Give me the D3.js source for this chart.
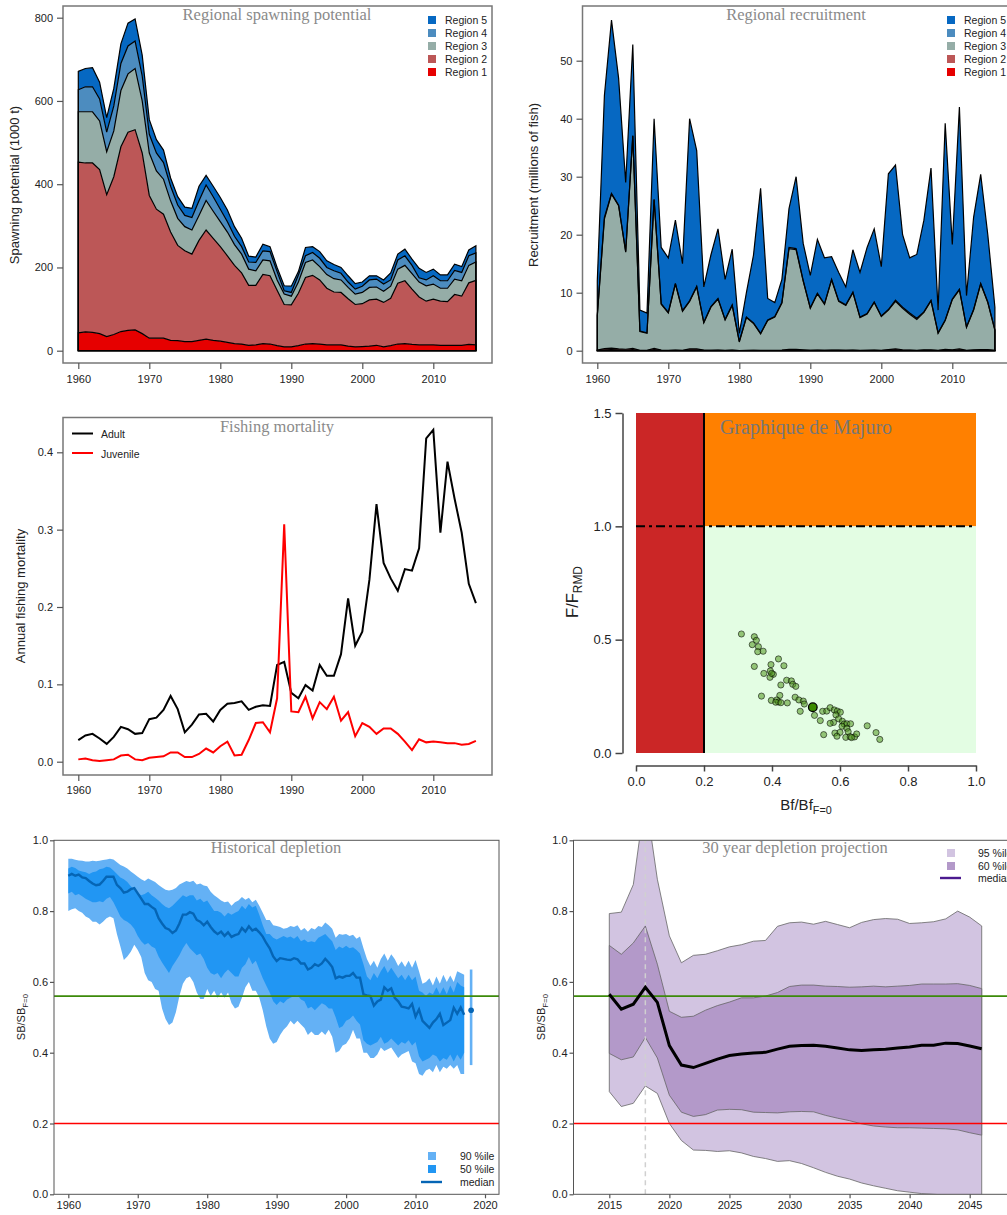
<!DOCTYPE html>
<html>

<head>
    <meta http-equiv="content-type" content="text/html; charset=utf-8">
    <title>Stock assessment summary</title>
    <script src="https://cdn.jsdelivr.net/npm/d3@7"></script>
    <style>
        body { margin: 0; background: white; }
        svg { display: block; font-family: "Liberation Sans", Arial, sans-serif; }
        .title { font-family: "Liberation Serif", serif; fill: #8a8a8a; text-anchor: middle; }
    </style>
</head>

<body>
    <svg width="1007" height="1215" id="mainsvg"></svg>
    <script>
        // ---- data ----
        const years = d3.range(1960, 2017);
        const regionNames = ['Region 5', 'Region 4', 'Region 3', 'Region 2', 'Region 1'];
        const regionColors = ['#0668C2', '#4C8CBF', '#95ADA7', '#BC5757', '#E60000'];

        // spawning potential, cumulative top of each region
        const spawnTop1 = [43,45,44,41,34,39,46,49,50,41, 30,30,30,25,24,22,22,25,28,25, 23,20,17,16,13,14,17,16,12,9, 9,12,16,17,16,14,14,14,11,9, 10,11,13,9,12,16,17,15,14,14, 14,13,13,13,13,15,14];
        const spawnTop2 = [453,451,451,435,375,418,490,525,531,475, 373,340,328,285,253,240,232,265,290,270, 250,228,205,187,157,157,183,180,145,111, 110,138,176,181,170,150,141,140,125,111, 113,122,124,116,126,162,168,148,129,119, 124,119,118,135,131,163,169];
        const spawnTop3 = [574,574,574,552,478,528,625,665,678,600, 475,432,412,360,318,298,290,325,361,335, 310,285,255,232,196,192,218,216,170,136, 131,165,212,218,202,183,173,170,152,136, 140,152,153,143,155,196,205,185,165,156, 160,150,150,172,168,205,213];
        const spawnTop4 = [627,634,634,605,525,588,690,732,744,660, 520,475,452,395,350,325,320,360,398,370, 340,310,275,250,213,212,240,238,190,144, 140,182,228,236,222,200,192,186,165,148, 155,170,172,160,170,218,228,205,175,170, 180,168,168,193,188,228,235];
        const spawnTop5 = [671,678,680,645,560,630,737,787,797,710, 555,507,482,415,370,345,342,395,421,395, 368,338,298,270,227,225,256,250,200,156, 155,190,248,250,238,216,207,200,180,161, 165,180,180,170,187,232,244,220,198,188, 196,182,182,208,202,242,252];

        // recruitment, cumulative top of each region
        const recTop1 = [.05,.15,.2,.15,.12,.2,.03,.03,.2,.05, .03,.05,.03,.15,.15,.05,.04,.05,.03,.05, .01,.03,.04,.03,.03,.03,.05,.1,.1,.07, .04,.05,.04,.06,.05,.04,.06,.03,.04,.05, .03,.1,.15,.08,.05,.03,.07,.08,.03,.12, .08,.15,.03,.07,.1,.1,.03];
        const recTop2 = [.1,.35,.45,.3,.25,.4,.06,.05,.4,.1, .06,.1,.06,.3,.3,.1,.08,.1,.06,.1, .02,.06,.08,.06,.06,.06,.1,.22,.22,.14, .08,.1,.08,.12,.1,.08,.12,.06,.08,.1, .06,.2,.3,.16,.1,.06,.14,.16,.06,.25, .16,.3,.06,.14,.2,.2,.06];
        const recTop3 = [6,22.7,27,25,17,37,3.3,3,26,8, 6.5,11.5,6.8,8.5,11,4.8,7.5,8.9,5.3,7.8, 1.5,5.7,4.7,2.9,5.2,5.8,8.2,17.6,17.4,12, 7.3,9.8,8,12.2,8.5,7.8,10,5.7,6.3,8.3, 5.9,7,8.5,7.3,6.3,5.4,6.6,8.6,3,5.2, 8.8,10.5,4,7,11.5,8.3,3.5];
        const recTop4 = [6.1,23,27.1,25.1,17.1,37.1,3.4,3.1,26.1,8.1, 6.6,11.6,6.9,8.6,11.1,4.9,7.6,9,5.4,7.9, 1.6,5.8,4.8,3,5.3,5.9,8.3,17.8,17.6,12.1, 7.4,9.9,8.1,12.3,8.6,7.9,10.1,5.8,6.4,8.4, 6,7.1,8.7,7.5,6.5,5.6,6.7,8.7,3.1,5.3, 8.9,10.6,4.1,7.1,11.6,8.4,3.6];
        const recTop5 = [12,44,57,47,29,52.8,7,6.5,40,17.8, 16,22.5,15,40,34.5,11,16.5,21,12.3,17.5, 3,10,16.5,28,9,8.3,12.3,24.5,30,18.5, 13,19.2,16,16.2,13.5,11,17.4,13.5,17.8,21, 14.5,30.5,32,20,16,16.6,22.5,31.5,7,39.2, 18.3,42,9.5,23,30.4,20,7.5];

        // fishing mortality
        const fAdult = [.028,.034,.036,.03,.023,.032,.045,.042,.036,.037, .055,.057,.067,.085,.068,.038,.048,.061,.062,.052, .067,.075,.076,.078,.067,.071,.073,.072,.125,.129, .089,.082,.099,.092,.125,.111,.111,.139,.211,.15, .168,.235,.333,.257,.237,.221,.249,.247,.276,.418, .429,.296,.388,.34,.296,.23,.205];
        const fJuvenile = [.003,.004,.002,.001,.002,.003,.008,.009,.003,.002, .005,.006,.007,.012,.012,.006,.006,.01,.017,.012, .02,.026,.008,.009,.028,.05,.051,.038,.082,.307, .065,.064,.084,.056,.077,.068,.084,.053,.064,.033, .05,.045,.036,.043,.043,.036,.026,.015,.029,.025, .026,.025,.024,.024,.022,.023,.027];

        // Majuro plot
        const majuroBf = [.31,.348,.354,.342,.36,.358,.374,.419,.348,.397,.435,.395,.376,.404,.394,.399,.426,.443,.457,.461,.47,.369,.423,.398,.414,.419,.411,.426,.445,.468,.479,.492,.495,.483,.525,.549,.542,.552,.561,.571,.583,.592,.601,.588,.596,.607,.581,.571,.612,.62,.631,.606,.62,.68,.706,.717,.585,.6,.591,.624,.617,.63,.643,.649,.634];
        const majuroF = [.525,.513,.497,.478,.469,.447,.449,.415,.382,.39,.385,.362,.351,.347,.334,.351,.3,.321,.318,.303,.294,.251,.254,.232,.234,.225,.224,.222,.221,.246,.234,.229,.216,.184,.166,.184,.143,.081,.185,.2,.19,.185,.18,.168,.151,.14,.135,.131,.128,.129,.129,.118,.109,.12,.09,.06,.088,.091,.074,.094,.069,.072,.071,.084,.068];
        const majuroLatest = [.52, .202];
        const majuroBfTicks = [0, .2, .4, .6, .8, 1];
        const majuroFTicks = [0, .5, 1, 1.5];

        // historical depletion, two readings per year from 1960 to 2017
        const histTimes = d3.range(0, 115).map(i => 1960 + i / 2);
        const histMedian = [.9,.905,.9,.903,.895,.893,.885,.878,.873,.875,.885,.897,.897,.897,.874,.865,.852,.855,.862,.865,.85,.835,.82,.82,.812,.805,.78,.765,.752,.748,.738,.745,.765,.79,.79,.797,.793,.775,.77,.76,.77,.755,.743,.735,.742,.73,.74,.727,.732,.735,.752,.742,.757,.745,.75,.74,.728,.71,.695,.672,.659,.667,.665,.663,.662,.667,.664,.652,.652,.635,.64,.65,.645,.652,.665,.655,.642,.61,.615,.612,.617,.617,.625,.612,.612,.565,.562,.56,.533,.545,.55,.585,.575,.582,.555,.545,.53,.528,.525,.538,.502,.522,.49,.48,.47,.485,.495,.51,.478,.485,.492,.527,.51,.528,.507];
        const histUp90 = [.948,.948,.945,.943,.942,.94,.94,.942,.941,.942,.944,.946,.948,.946,.938,.93,.926,.92,.912,.905,.897,.89,.885,.892,.887,.882,.874,.867,.86,.858,.86,.865,.875,.88,.885,.882,.886,.875,.878,.872,.87,.855,.845,.838,.83,.825,.827,.815,.825,.83,.84,.832,.838,.825,.832,.815,.795,.775,.775,.76,.758,.755,.75,.752,.758,.755,.76,.745,.752,.742,.752,.748,.758,.755,.768,.76,.75,.725,.735,.733,.735,.73,.733,.722,.728,.695,.665,.645,.66,.64,.665,.68,.66,.678,.665,.645,.658,.642,.66,.64,.662,.63,.595,.6,.61,.59,.615,.595,.62,.6,.618,.6,.63,.625,.62];
        const histUp50 = [.92,.925,.922,.915,.912,.91,.905,.91,.912,.918,.92,.925,.923,.915,.905,.895,.89,.882,.87,.86,.852,.845,.848,.855,.845,.838,.83,.82,.812,.808,.815,.825,.835,.845,.84,.845,.845,.83,.835,.825,.83,.815,.8,.8,.795,.785,.795,.79,.795,.8,.815,.805,.82,.81,.815,.79,.76,.735,.735,.725,.72,.725,.73,.725,.728,.722,.73,.715,.72,.712,.715,.712,.725,.73,.735,.725,.715,.69,.7,.695,.702,.695,.698,.69,.68,.65,.615,.605,.625,.61,.63,.645,.625,.64,.625,.61,.62,.605,.62,.605,.615,.575,.57,.56,.57,.565,.585,.565,.585,.565,.59,.57,.6,.59,.585];
        const histLow50 = [.85,.855,.845,.848,.842,.835,.83,.825,.825,.828,.825,.835,.84,.825,.805,.785,.775,.77,.762,.75,.73,.715,.705,.71,.7,.695,.672,.655,.64,.625,.645,.66,.675,.695,.71,.695,.685,.675,.68,.665,.64,.625,.62,.625,.61,.625,.635,.625,.615,.615,.64,.65,.67,.65,.66,.635,.61,.59,.57,.545,.535,.545,.54,.55,.555,.56,.562,.55,.545,.525,.53,.52,.53,.54,.535,.525,.525,.5,.47,.475,.49,.495,.505,.49,.48,.435,.425,.42,.425,.43,.445,.425,.43,.44,.43,.42,.43,.425,.435,.42,.43,.39,.375,.38,.385,.395,.39,.375,.385,.38,.395,.375,.395,.38,.4];
        const histLow90 = [.8,.805,.808,.8,.795,.785,.78,.77,.77,.762,.77,.78,.785,.78,.735,.7,.662,.672,.685,.705,.69,.67,.625,.605,.6,.58,.575,.525,.495,.478,.485,.515,.56,.595,.61,.615,.6,.57,.552,.552,.58,.56,.575,.555,.57,.555,.57,.54,.525,.53,.555,.585,.6,.575,.575,.555,.52,.475,.44,.425,.43,.45,.465,.475,.49,.48,.49,.48,.47,.45,.46,.45,.45,.46,.45,.465,.445,.4,.405,.42,.425,.44,.465,.44,.44,.4,.4,.385,.385,.395,.415,.405,.41,.415,.4,.385,.395,.4,.405,.375,.37,.34,.335,.35,.355,.345,.365,.345,.36,.355,.365,.355,.365,.34,.34];
        const histFinal = { year: 2018, median: .52, low: .365, high: .635 };

        // 30 year projection
        const projYears = d3.range(2015, 2047);
        const projMedian = [.565,.523,.537,.585,.542,.42,.365,.358,.37,.382,.392,.396,.399,.401,.41,.418,.42,.421,.418,.413,.408,.406,.408,.41,.413,.416,.421,.421,.427,.426,.419,.411];
        const projUp95 = [.793,.797,.875,1.125,.89,.73,.654,.675,.678,.688,.699,.705,.715,.717,.757,.767,.769,.763,.771,.762,.753,.768,.776,.779,.777,.765,.767,.77,.778,.8,.783,.758];
        const projUp60 = [.703,.678,.71,.758,.65,.517,.5,.503,.52,.533,.543,.555,.555,.56,.57,.587,.591,.591,.588,.587,.585,.586,.588,.586,.588,.59,.594,.594,.594,.595,.59,.581];
        const projLow60 = [.398,.38,.388,.443,.385,.28,.232,.22,.225,.238,.24,.239,.232,.231,.23,.233,.234,.233,.223,.215,.208,.199,.193,.19,.188,.188,.187,.186,.185,.182,.174,.167];
        const projLow95 = [.29,.248,.257,.306,.285,.2,.152,.125,.124,.121,.123,.117,.107,.101,.093,.095,.087,.075,.062,.051,.043,.032,.024,.017,.01,.006,.002,0,-.002,-.004,-.006,-.008];

        const refLines = [{ v: .56, color: '#3C8A0A' }, { v: .2, color: '#FF0000' }];

        const svg = d3.select('#mainsvg');

        // ---- helpers ----
        function frame(box, stroke, sw) {
            svg.append('rect').attr('x', box.x0).attr('y', box.y0)
                .attr('width', box.x1 - box.x0).attr('height', box.y1 - box.y0)
                .attr('fill', 'none').attr('stroke', stroke).attr('stroke-width', sw);
        }

        function axes(x, y, box, xTicks, yTicks, yFormat, tick, xPad, yPad) {
            const ax = svg.append('g').attr('transform', `translate(0,${box.y1})`)
                .call(d3.axisBottom(x).tickValues(xTicks).tickFormat(d3.format('d')).tickSize(tick).tickSizeOuter(0).tickPadding(xPad));
            const ay = svg.append('g').attr('transform', `translate(${box.x0},0)`)
                .call(d3.axisLeft(y).tickValues(yTicks).tickFormat(yFormat).tickSize(tick).tickSizeOuter(0).tickPadding(yPad));
            [ax, ay].forEach(a => {
                a.select('.domain').remove();
                a.selectAll('line').attr('stroke', '#555').attr('stroke-width', 1.2);
                a.selectAll('text').attr('fill', '#222').style('font-size', '11px')
                    .style('font-family', '"Liberation Sans", Arial, sans-serif');
            });
        }

        function title(text, cx, baseline, size, color) {
            const t = svg.append('text').attr('class', 'title').attr('x', cx).attr('y', baseline)
                .style('font-size', size + 'px').text(text);
            if (color) t.style('fill', color);
        }

        function yTitle(text, cx, cy, size) {
            return svg.append('text').attr('transform', `translate(${cx},${cy}) rotate(-90)`)
                .attr('text-anchor', 'middle').attr('fill', '#222').style('font-size', size + 'px').text(text);
        }

        function subLabel(sel, main, sub, size) {
            sel.append('tspan').text(main);
            sel.append('tspan').attr('dy', size * 0.25).style('font-size', (size * 0.72) + 'px').text(sub);
        }

        function legendText(text, x, y) {
            svg.append('text').attr('x', x).attr('y', y + 4).attr('fill', '#222').style('font-size', '10.5px').text(text);
        }

        function legendSwatch(color, x, y) {
            svg.append('rect').attr('x', x - 4).attr('y', y - 4).attr('width', 8).attr('height', 8).attr('fill', color);
        }

        function legendLine(color, x0, x1, y, sw) {
            svg.append('line').attr('x1', x0).attr('x2', x1).attr('y1', y).attr('y2', y)
                .attr('stroke', color).attr('stroke-width', sw);
        }

        function stacked(x, y, tops, colors, times, lineWidth) {
            // tops run from the lowest region to the highest
            tops.forEach((top, i) => {
                const lower = i > 0 ? tops[i - 1] : times.map(() => 0);
                const area = d3.area().x((d, j) => x(times[j])).y0((d, j) => y(lower[j])).y1(d => y(d));
                svg.append('path').datum(top).attr('d', area).attr('fill', colors[i]);
            });
            tops.forEach(top => {
                const area = d3.area().x((d, j) => x(times[j])).y0(y(0)).y1(d => y(d));
                svg.append('path').datum(top).attr('d', area).attr('fill', 'none')
                    .attr('stroke', 'black').attr('stroke-width', lineWidth);
            });
        }

        function regionLegend(xSwatch, xText) {
            const rows = [20, 33, 46, 59, 72];
            regionNames.forEach((name, i) => {
                legendSwatch(regionColors[i], xSwatch, rows[i]);
                legendText(name, xText, rows[i]);
            });
        }

        const lowToHigh = regionColors.slice().reverse();
        const yearTicks = d3.range(1960, 2011, 10);

        // ---- regional spawning potential ----
        {
            const box = { x0: 63, x1: 492, y0: 6, y1: 363 };
            const x = d3.scaleLinear().domain([1960, 2010]).range([78.3, 433.3]);
            const y = d3.scaleLinear().domain([0, 800]).range([350.7, 17.7]);
            stacked(x, y, [spawnTop1, spawnTop2, spawnTop3, spawnTop4, spawnTop5], lowToHigh, years, 1.2);
            frame(box, '#777', 1.5);
            axes(x, y, box, yearTicks, d3.range(0, 801, 200), d3.format('d'), 6, 6, 4);
            title('Regional spawning potential', 277, 20, 16.5);
            yTitle('Spawning potential (1000 t)', 19, 185, 13);
            regionLegend(432, 445);
        }

        // ---- regional recruitment ----
        {
            const box = { x0: 582.5, x1: 1012, y0: 6, y1: 363 };
            const x = d3.scaleLinear().domain([1960, 2010]).range([597.3, 952.3]);
            const y = d3.scaleLinear().domain([0, 50]).range([350.7, 60.7]);
            stacked(x, y, [recTop1, recTop2, recTop3, recTop4, recTop5], lowToHigh, years, 1.2);
            frame(box, '#777', 1.5);
            axes(x, y, box, yearTicks, d3.range(0, 51, 10), d3.format('d'), 6, 6, 4);
            title('Regional recruitment', 796, 20, 16.5);
            yTitle('Recruitment (millions of fish)', 538, 185, 13);
            regionLegend(951, 964);
        }

        // ---- fishing mortality ----
        {
            const box = { x0: 63, x1: 492, y0: 417.5, y1: 775 };
            const x = d3.scaleLinear().domain([1960, 2010]).range([78.3, 433.3]);
            const y = d3.scaleLinear().domain([0, .4]).range([761.7, 452.3]);
            const line = d3.line().x((d, i) => x(years[i])).y(d => y(d));
            svg.append('path').datum(fAdult).attr('d', line).attr('fill', 'none').attr('stroke', 'black').attr('stroke-width', 2);
            svg.append('path').datum(fJuvenile).attr('d', line).attr('fill', 'none').attr('stroke', '#F00').attr('stroke-width', 2);
            frame(box, '#777', 1.5);
            axes(x, y, box, yearTicks, [0, .1, .2, .3, .4], d3.format('.1f'), 6, 5, 4);
            title('Fishing mortality', 277, 432, 16.5);
            yTitle('Annual fishing mortality', 25, 596, 13);
            legendLine('black', 72, 93, 433.5, 2);
            legendText('Adult', 101, 434);
            legendLine('#F00', 72, 93, 453, 2);
            legendText('Juvenile', 101, 453.5);
        }

        // ---- Graphique de Majuro ----
        {
            const x = d3.scaleLinear().domain([0, 1]).range([636, 976]);
            const y = d3.scaleLinear().domain([0, 1.5]).range([753, 413]);
            svg.append('rect').attr('x', x(0)).attr('y', y(1.5)).attr('width', x(.2) - x(0)).attr('height', y(0) - y(1.5)).attr('fill', '#CB2626');
            svg.append('rect').attr('x', x(.2)).attr('y', y(1.5)).attr('width', x(1) - x(.2)).attr('height', y(1) - y(1.5)).attr('fill', '#FF8000');
            svg.append('rect').attr('x', x(.2)).attr('y', y(1)).attr('width', x(1) - x(.2)).attr('height', y(0) - y(1)).attr('fill', '#E3FDE3');
            svg.append('line').attr('x1', x(.2)).attr('x2', x(.2)).attr('y1', y(1.5)).attr('y2', y(0)).attr('stroke', 'black').attr('stroke-width', 2);
            svg.append('line').attr('x1', x(0)).attr('x2', x(1)).attr('y1', y(1)).attr('y2', y(1)).attr('stroke', 'black').attr('stroke-width', 2).attr('stroke-dasharray', '9,4,3,4');
            svg.selectAll('circle.hist').data(majuroBf).enter().append('circle').attr('class', 'hist')
                .attr('cx', d => x(d)).attr('cy', (d, i) => y(majuroF[i])).attr('r', 3.1)
                .attr('fill', 'rgba(80,150,30,0.55)').attr('stroke', 'rgba(0,0,0,0.55)').attr('stroke-width', 1);
            svg.append('circle').attr('cx', x(majuroLatest[0])).attr('cy', y(majuroLatest[1])).attr('r', 4.3)
                .attr('fill', '#3C8A00').attr('stroke', 'black').attr('stroke-width', 1.3);
            const ax = svg.append('g').attr('transform', 'translate(0,765.5)')
                .call(d3.axisBottom(x).tickValues(majuroBfTicks).tickFormat(d3.format('.1f')).tickSize(6).tickSizeOuter(0).tickPadding(5));
            const ay = svg.append('g').attr('transform', 'translate(622.5,0)')
                .call(d3.axisLeft(y).tickValues(majuroFTicks).tickFormat(d3.format('.1f')).tickSize(7).tickSizeOuter(0).tickPadding(4));
            [ax, ay].forEach(a => {
                a.selectAll('.domain, line').attr('stroke', '#444').attr('stroke-width', 1.5);
                a.selectAll('text').attr('fill', '#222').style('font-size', '13px').style('font-family', '"Liberation Sans", Arial, sans-serif');
            });
            const xl = svg.append('text').attr('x', 806).attr('y', 810).attr('text-anchor', 'middle').attr('fill', '#222').style('font-size', '15px');
            subLabel(xl, 'Bf/Bf', 'F=0', 15);
            subLabel(yTitle('', 578, 592, 16.5), 'F/F', 'RMD', 16.5);
            title('Graphique de Majuro', 806, 434, 20, '#777');
        }

        // ---- historical depletion ----
        {
            const box = { x0: 54, x1: 499, y0: 840.3, y1: 1194.3 };
            const x = d3.scaleLinear().domain([1960, 2020]).range([68.3, 485]);
            const y = d3.scaleLinear().domain([0, 1]).range([1194.3, 840.3]);
            const band = (lo, hi) => d3.area().x((d, i) => x(histTimes[i])).y0((d, i) => y(lo[i])).y1(d => y(d))(hi);
            svg.append('path').attr('d', band(histLow90, histUp90)).attr('fill', '#64B1F5');
            svg.append('path').attr('d', band(histLow50, histUp50)).attr('fill', '#2196F3');
            svg.append('path').datum(histMedian).attr('fill', 'none').attr('stroke', '#0565B5').attr('stroke-width', 2.4)
                .attr('d', d3.line().x((d, i) => x(histTimes[i])).y(d => y(d)));
            svg.append('line').attr('x1', x(histFinal.year)).attr('x2', x(histFinal.year)).attr('y1', y(histFinal.low)).attr('y2', y(histFinal.high))
                .attr('stroke', '#64B1F5').attr('stroke-width', 2.6);
            svg.append('circle').attr('cx', x(histFinal.year)).attr('cy', y(histFinal.median)).attr('r', 2.8).attr('fill', '#0565B5');
            refLines.forEach(r => svg.append('line').attr('x1', box.x0).attr('x2', box.x1).attr('y1', y(r.v)).attr('y2', y(r.v))
                .attr('stroke', r.color).attr('stroke-width', 1.7));
            frame(box, '#555', 1);
            axes(x, y, box, d3.range(1960, 2021, 10), d3.range(0, 1.01, .2), d3.format('.1f'), 4, 3, 2);
            title('Historical depletion', 276, 853, 16.5);
            subLabel(yTitle('', 25, 1017, 11), 'SB/SB', 'F=0', 11);
            legendSwatch('#64B1F5', 432, 1156);
            legendText('90 %ile', 460, 1156);
            legendSwatch('#2196F3', 432, 1169);
            legendText('50 %ile', 460, 1169);
            legendLine('#0565B5', 421, 442, 1182, 2.4);
            legendText('median', 460, 1182);
        }

        // ---- 30 year depletion projection ----
        {
            const box = { x0: 573.5, x1: 1018, y0: 840.3, y1: 1194.3 };
            const x = d3.scaleLinear().domain([2015, 2045]).range([609.3, 969.7]);
            const y = d3.scaleLinear().domain([0, 1]).range([1194.3, 840.3]);
            svg.append('clipPath').attr('id', 'proj-clip').append('rect')
                .attr('x', box.x0).attr('y', box.y0).attr('width', box.x1 - box.x0).attr('height', box.y1 - box.y0);
            const plot = svg.append('g').attr('clip-path', 'url(#proj-clip)');
            const band = (lo, hi) => d3.area().x((d, i) => x(projYears[i])).y0((d, i) => y(lo[i])).y1(d => y(d))(hi);
            plot.append('path').attr('d', band(projLow95, projUp95)).attr('fill', '#D2C4E1').attr('stroke', '#666').attr('stroke-width', .8);
            plot.append('path').attr('d', band(projLow60, projUp60)).attr('fill', '#B399C9').attr('stroke', '#666').attr('stroke-width', .8);
            plot.append('line').attr('x1', x(2018)).attr('x2', x(2018)).attr('y1', y(0)).attr('y2', y(1))
                .attr('stroke', '#D0D0D0').attr('stroke-width', 1.5).attr('stroke-dasharray', '5,4');
            refLines.forEach(r => plot.append('line').attr('x1', box.x0).attr('x2', box.x1).attr('y1', y(r.v)).attr('y2', y(r.v))
                .attr('stroke', r.color).attr('stroke-width', 1.7));
            plot.append('path').datum(projMedian).attr('fill', 'none').attr('stroke', 'black').attr('stroke-width', 3)
                .attr('d', d3.line().x((d, i) => x(projYears[i])).y(d => y(d)));
            frame(box, '#555', 1);
            axes(x, y, box, d3.range(2015, 2046, 5), d3.range(0, 1.01, .2), d3.format('.1f'), 4, 3, 2);
            title('30 year depletion projection', 795, 853, 16.5);
            subLabel(yTitle('', 545, 1017, 11), 'SB/SB', 'F=0', 11);
            legendSwatch('#D2C4E1', 951, 853);
            legendText('95 %ile', 978, 853);
            legendSwatch('#B399C9', 951, 866);
            legendText('60 %ile', 978, 866);
            legendLine('#4B1A8F', 940, 961, 878, 2.4);
            legendText('median', 978, 878);
        }

    </script>
</body>

</html>
